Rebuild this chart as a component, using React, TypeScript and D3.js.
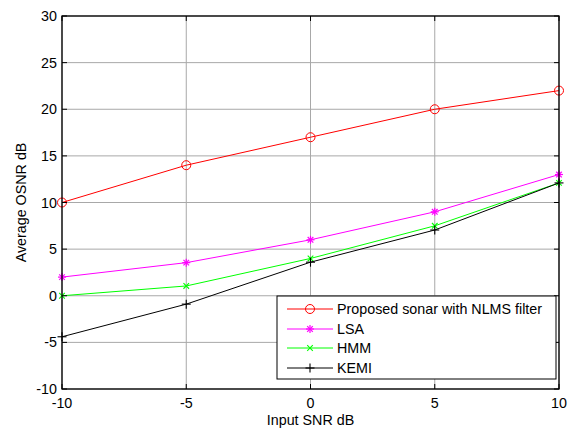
import React from "react";
import * as d3 from "d3";

const xValues = [-10, -5, 0, 5, 10];
const proposed = [10, 14, 17, 20, 22];
const lsa = [2, 3.55, 6, 9, 13];
const hmm = [0, 1.05, 4, 7.5, 12.1];
const kemi = [-4.4, -0.9, 3.6, 7.05, 12.1];
const xTicks = [-10, -5, 0, 5, 10];
const yTicks = [-10, -5, 0, 5, 10, 15, 20, 25, 30];
const seriesNames = ["Proposed sonar with NLMS filter", "LSA", "HMM", "KEMI"];
const seriesColors = ["#ff0000", "#ff00ff", "#00ff00", "#000000"];
const seriesMarkers = ["circle", "asterisk", "x", "plus"];

const L = 62, R = 559, T = 16, B = 389;
const font = "Arial, 'Liberation Sans', sans-serif";
const FS = 14.3;

function Marker({ type, x, y, color }: { type: string; x: number; y: number; color: string }) {
  if (type === "circle") return <circle cx={x} cy={y} r={4.5} fill="none" stroke={color} strokeWidth={1} />;
  if (type === "asterisk") {
    const s = 4;
    return (
      <g stroke={color} strokeWidth={1.2}>
        <line x1={x - s} y1={y} x2={x + s} y2={y} />
        <line x1={x} y1={y - s} x2={x} y2={y + s} />
        <line x1={x - s * 0.7} y1={y - s * 0.7} x2={x + s * 0.7} y2={y + s * 0.7} />
        <line x1={x - s * 0.7} y1={y + s * 0.7} x2={x + s * 0.7} y2={y - s * 0.7} />
      </g>
    );
  }
  if (type === "x") {
    const s = 2.8;
    return (
      <g stroke={color} strokeWidth={1.1}>
        <line x1={x - s} y1={y - s} x2={x + s} y2={y + s} />
        <line x1={x - s} y1={y + s} x2={x + s} y2={y - s} />
      </g>
    );
  }
  const s = 4.5;
  return (
    <g stroke={color} strokeWidth={1.1}>
      <line x1={x - s} y1={y} x2={x + s} y2={y} />
      <line x1={x} y1={y - s} x2={x} y2={y + s} />
    </g>
  );
}

export default function App() {
  const x = d3.scaleLinear().domain([-10, 10]).range([L, R]);
  const y = d3.scaleLinear().domain([-10, 30]).range([B, T]);
  const allSeries = [proposed, lsa, hmm, kemi];
  const line = d3
    .line<number>()
    .x((_, i) => x(xValues[i]))
    .y((d) => y(d));

  const legX = 277, legY = 296, legW = 279, legH = 83;
  const rowYs = [309, 329, 348, 368];

  return (
    <svg width={568} height={431} style={{ position: "absolute", left: 0, top: 0, background: "#fff" }} fontFamily={font}>
      <rect x={0} y={0} width={568} height={431} fill="#fff" />
      {xTicks.map((t) => (
        <line key={"gx" + t} x1={x(t)} x2={x(t)} y1={T} y2={B} stroke="#a8a8a8" strokeWidth={1} />
      ))}
      {yTicks.map((t) => (
        <line key={"gy" + t} x1={L} x2={R} y1={y(t)} y2={y(t)} stroke="#a8a8a8" strokeWidth={1} />
      ))}
      {allSeries.map((s, si) => (
        <g key={"s" + si}>
          <path d={line(s) || ""} fill="none" stroke={seriesColors[si]} strokeWidth={1} />
          {s.map((v, i) => (
            <Marker key={i} type={seriesMarkers[si]} x={x(xValues[i])} y={y(v)} color={seriesColors[si]} />
          ))}
        </g>
      ))}
      <rect x={L} y={T} width={R - L} height={B - T} fill="none" stroke="#000" strokeWidth={1.3} />
      {xTicks.map((t) => (
        <g key={"tx" + t}>
          <line x1={x(t)} x2={x(t)} y1={B} y2={B - 5} stroke="#000" />
          <line x1={x(t)} x2={x(t)} y1={T} y2={T + 5} stroke="#000" />
          <text x={x(t)} y={407.5} textAnchor="middle" fontSize={FS} fill="#000">
            {t}
          </text>
        </g>
      ))}
      {yTicks.map((t) => (
        <g key={"ty" + t}>
          <line x1={L} x2={L + 5} y1={y(t)} y2={y(t)} stroke="#000" />
          <line x1={R} x2={R - 5} y1={y(t)} y2={y(t)} stroke="#000" />
          <text x={57} y={y(t) + 5} textAnchor="end" fontSize={FS} fill="#000">
            {t}
          </text>
        </g>
      ))}
      <text x={(L + R) / 2} y={425} textAnchor="middle" fontSize={FS} fill="#000">
        Input SNR dB
      </text>
      <text
        transform={`translate(26,${(T + B) / 2}) rotate(-90)`}
        textAnchor="middle"
        fontSize={FS}
        fill="#000"
      >
        Average OSNR dB
      </text>
      <rect x={legX} y={legY} width={legW} height={legH} fill="#fff" stroke="#000" strokeWidth={1} />
      {seriesNames.map((n, i) => (
        <g key={"l" + i}>
          <line x1={287} x2={333} y1={rowYs[i]} y2={rowYs[i]} stroke={seriesColors[i]} strokeWidth={1} />
          <Marker type={seriesMarkers[i]} x={310} y={rowYs[i]} color={seriesColors[i]} />
          <text x={337} y={rowYs[i] + 5} fontSize={FS} fill="#000">
            {n}
          </text>
        </g>
      ))}
    </svg>
  );
}
